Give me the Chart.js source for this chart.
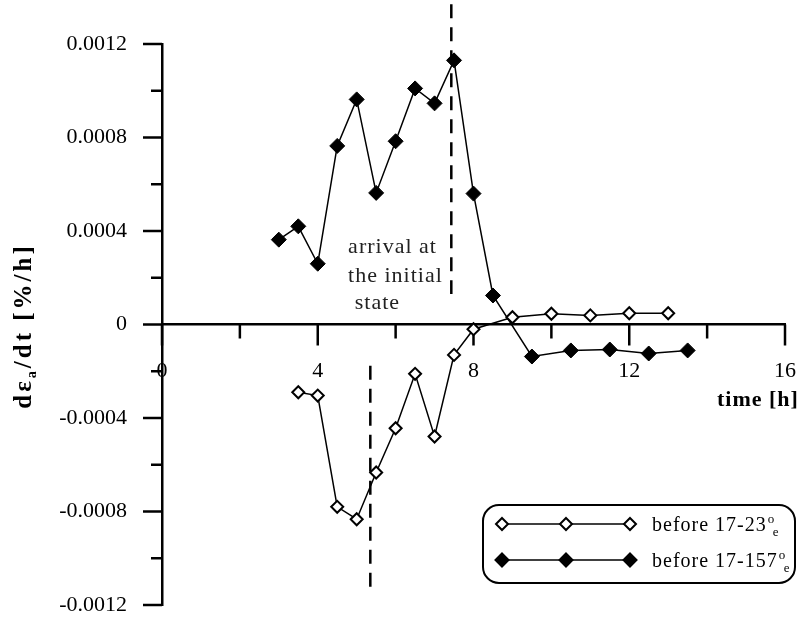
<!DOCTYPE html>
<html>
<head>
<meta charset="utf-8">
<script src="https://cdn.jsdelivr.net/npm/chart.js@4.4.0/dist/chart.umd.min.js"></script>
<style>
  html, body { margin: 0; padding: 0; background: #fff; }
</style>
</head>
<body>
<canvas id="grafico" width="806" height="622"></canvas>
<script>
// before 17-23°e (open diamonds)
const horasAbertos = [3.5, 4, 4.5, 5, 5.5, 6, 6.5, 7, 7.5, 8, 9, 10, 11, 12, 13];
const valoresAbertos = [-0.00029, -0.000304, -0.00078, -0.000833, -0.000633, -0.000444, -0.000211, -0.000479,
  -0.00013, -0.00002, 0.000031, 0.000046, 0.000039, 0.000048, 0.000048];

// before 17-157°e (filled diamonds)
const horasCheios = [3, 3.5, 4, 4.5, 5, 5.5, 6, 6.5, 7, 7.5, 8, 8.5, 9.5, 10.5, 11.5, 12.5, 13.5];
const valoresCheios = [0.000363, 0.00042, 0.00026, 0.000764, 0.000963, 0.000563, 0.000784, 0.00101, 0.000946,
  0.00113, 0.00056, 0.000124, -0.000137, -0.000111, -0.000107, -0.000124, -0.000111];

// dashed "arrival at the initial state" markers
const tracejadoX = [7.43, 5.35];
const tracejadoTopo = [0.00137, -0.000176];
const tracejadoBase = [0.00013, -0.00115];

const rotulosX = ["0", "4", "8", "12", "16"];
const rotulosY = ["-0.0012", "-0.0008", "-0.0004", "0", "0.0004", "0.0008", "0.0012"];
const nomesSeries = ["before 17-23", "before 17-157"];

const fonteSerif = "'Liberation Serif', 'Times New Roman', serif";

const pontos = (xs, ys) => xs.map((x, i) => ({ x: x, y: ys[i] }));

const tracejados = tracejadoX.map((x, i) => ({
  data: [{ x: x, y: tracejadoTopo[i] }, { x: x, y: tracejadoBase[i] }],
  borderColor: "#000",
  borderWidth: 2.5,
  borderDash: [14, 9],
  pointRadius: 0,
  clip: false,
}));

// kill the automatic label overhang so the plot area sits where the paddings say
function semFolga(s) {
  s.paddingLeft = 0;
  s.paddingRight = 0;
  s.paddingTop = 0;
  s.paddingBottom = 0;
}

function losango(ctx, x, y, r, cheio) {
  ctx.beginPath();
  ctx.moveTo(x, y - r);
  ctx.lineTo(x + r, y);
  ctx.lineTo(x, y + r);
  ctx.lineTo(x - r, y);
  ctx.closePath();
  ctx.fillStyle = cheio ? "#000" : "#fff";
  ctx.fill();
  ctx.lineWidth = 2;
  ctx.strokeStyle = "#000";
  ctx.stroke();
}

const marcasEixos = {
  id: "marcasEixos",
  beforeDatasetsDraw(chart) {
    const { ctx, scales: { x, y } } = chart;
    const y0 = y.getPixelForValue(0);
    const x0 = x.getPixelForValue(0);
    ctx.save();
    ctx.strokeStyle = "#000";
    ctx.lineWidth = 2.5;
    x.ticks.forEach((t) => {
      const px = x.getPixelForValue(t.value);
      const len = Math.round(t.value) % 4 === 0 ? 21 : 14;
      ctx.beginPath();
      ctx.moveTo(px, y0);
      ctx.lineTo(px, y0 + len);
      ctx.stroke();
    });
    y.ticks.forEach((t) => {
      const py = y.getPixelForValue(t.value);
      const len = Math.round(t.value / 0.0002) % 2 === 0 ? 19 : 11;
      ctx.beginPath();
      ctx.moveTo(x0, py);
      ctx.lineTo(x0 - len, py);
      ctx.stroke();
    });
    ctx.restore();
  },
};

const textos = {
  id: "textos",
  afterDraw(chart) {
    const { ctx, scales: { x, y } } = chart;
    ctx.save();

    // y title with subscript
    ctx.translate(23, 326);
    ctx.rotate(-Math.PI / 2);
    ctx.fillStyle = "#000";
    ctx.textBaseline = "alphabetic";
    ctx.letterSpacing = "3px";
    const partes = [
      { t: "dε", f: "bold 25px " + fonteSerif, dy: 0 },
      { t: "a", f: "bold 14px " + fonteSerif, dy: 5 },
      { t: "/dt [%/h]", f: "bold 25px " + fonteSerif, dy: 0 },
    ];
    let total = 0;
    partes.forEach((p) => { ctx.font = p.f; total += ctx.measureText(p.t).width; });
    let cx = -total / 2;
    partes.forEach((p) => {
      ctx.font = p.f;
      ctx.fillText(p.t, cx, 8 + p.dy);
      cx += ctx.measureText(p.t).width;
    });
    ctx.restore();

    ctx.save();
    ctx.fillStyle = "#000";
    ctx.letterSpacing = "1px";
    ctx.font = "bold 22px " + fonteSerif;
    ctx.fillText("time [h]", 717, 406);

    // annotation
    ctx.fillStyle = "#222";
    ctx.font = "22px " + fonteSerif;
    ctx.fillText("arrival at", x.getPixelForValue(4.78), y.getPixelForValue(0.000305));
    ctx.fillText("the initial", x.getPixelForValue(4.78), y.getPixelForValue(0.00018));
    ctx.fillText("state", x.getPixelForValue(4.95), y.getPixelForValue(0.000065));
    ctx.restore();

    // legend box
    ctx.save();
    ctx.strokeStyle = "#000";
    ctx.lineWidth = 2;
    ctx.beginPath();
    ctx.roundRect(483, 505, 312, 78, 16);
    ctx.stroke();
    const linhas = [524, 560];
    linhas.forEach((ly, i) => {
      ctx.lineWidth = 1.5;
      ctx.beginPath();
      ctx.moveTo(502, ly);
      ctx.lineTo(630, ly);
      ctx.stroke();
      [502, 566, 630].forEach((mx) => losango(ctx, mx, ly, i === 0 ? 6 : 6.5, i === 1));
      ctx.fillStyle = "#000";
      ctx.letterSpacing = "1px";
      ctx.font = "20px " + fonteSerif;
      ctx.fillText(nomesSeries[i], 652, ly + 7);
      const w = ctx.measureText(nomesSeries[i]).width;
      ctx.font = "13px " + fonteSerif;
      ctx.fillText("o", 652 + w + 1, ly - 1);
      ctx.fillText("e", 652 + w + 6, ly + 12);
    });
    ctx.restore();
  },
};

new Chart(document.getElementById("grafico").getContext("2d"), {
  type: "line",
  data: {
    datasets: [
      {
        label: nomesSeries[0],
        data: pontos(horasAbertos, valoresAbertos),
        borderColor: "#000",
        borderWidth: 1.5,
        pointStyle: "rectRot",
        pointRadius: 6,
        pointBackgroundColor: "#fff",
        pointBorderColor: "#000",
        pointBorderWidth: 2,
      },
      {
        label: nomesSeries[1],
        data: pontos(horasCheios, valoresCheios),
        borderColor: "#000",
        borderWidth: 1.5,
        pointStyle: "rectRot",
        pointRadius: 7.5,
        pointBackgroundColor: "#000",
        pointBorderColor: "#000",
        pointBorderWidth: 1,
      },
      ...tracejados,
    ],
  },
  options: {
    responsive: false,
    animation: false,
    events: [],
    layout: { padding: { left: 0, right: 21, top: 44, bottom: 17 } },
    plugins: {
      legend: { display: false },
      tooltip: { enabled: false },
    },
    scales: {
      x: {
        type: "linear",
        min: 0,
        max: 16,
        position: { y: 0 },
        afterFit: (s) => { s.height = 0; semFolga(s); },
        border: { display: true, color: "#000", width: 2.5 },
        grid: { display: false, drawTicks: false },
        ticks: {
          stepSize: 2,
          padding: 34,
          autoSkip: false,
          maxRotation: 0,
          color: "#000",
          font: { family: fonteSerif, size: 22 },
          callback: (v) => (Math.round(v) % 4 === 0 ? rotulosX[Math.round(v) / 4] : ""),
        },
      },
      y: {
        type: "linear",
        min: -0.0012,
        max: 0.0012,
        afterFit: (s) => { s.width = 162; semFolga(s); },
        border: { display: true, color: "#000", width: 2.5 },
        grid: { display: false, drawTicks: false },
        ticks: {
          stepSize: 0.0002,
          padding: 35,
          autoSkip: false,
          color: "#000",
          font: { family: fonteSerif, size: 22 },
          callback: (v) => {
            const k = Math.round(v / 0.0002);
            return k % 2 === 0 ? rotulosY[k / 2 + 3] : "";
          },
        },
      },
    },
  },
  plugins: [marcasEixos, textos],
});
</script>
</body>
</html>
